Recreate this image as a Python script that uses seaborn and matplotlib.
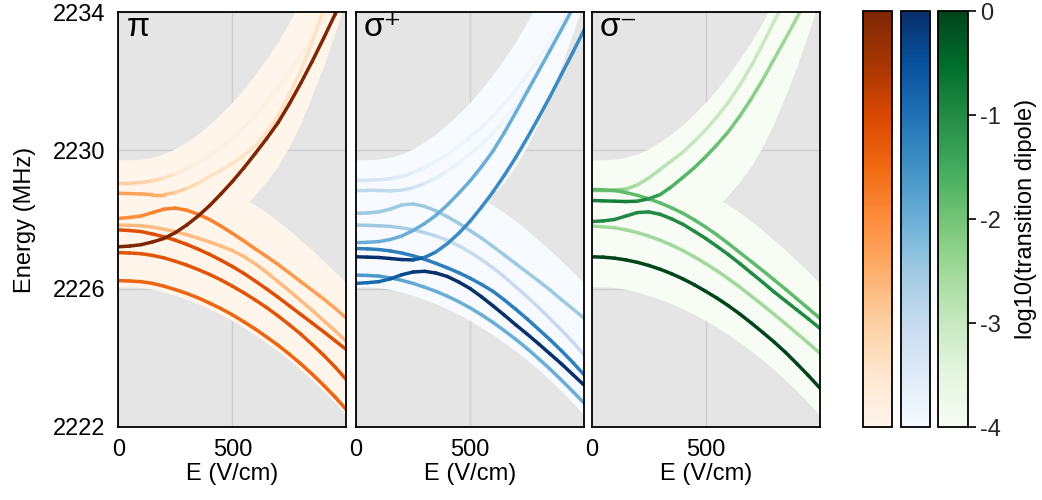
import numpy as np
import matplotlib
matplotlib.use("Agg")
import matplotlib.pyplot as plt
from matplotlib.collections import LineCollection
from matplotlib.colors import Normalize
from matplotlib.cm import ScalarMappable
import seaborn as sns

# ---------------- data ----------------
E_FIELD = [0, 50, 100, 150, 200, 250, 300, 350, 400, 450, 500,
           550, 600, 650, 700, 750, 800, 850, 900, 950, 1000]

# manifold band (pale background of weak transitions)
BAND_TOP = [2229.72, 2229.73, 2229.75, 2229.80, 2229.90, 2230.05, 2230.25, 2230.48, 2230.75, 2231.06, 2231.40,
            2231.78, 2232.20, 2232.66, 2233.15, 2233.72, 2234.35, 2234.97, 2235.60, 2236.30, 2237.00]
BAND_UPPER_LOW = [2228.00, 2228.00, 2228.00, 2228.00, 2228.00, 2228.00, 2228.00, 2228.05, 2228.10, 2228.15, 2228.20,
                  2228.35, 2228.72, 2229.10, 2229.55, 2230.12, 2230.80, 2231.60, 2232.45, 2233.40, 2234.40]
BAND_LOWER_TOP = [2229.72, 2229.72, 2229.72, 2229.70, 2229.65, 2229.55, 2229.42, 2229.27, 2229.10, 2228.96, 2228.80,
                  2228.62, 2228.42, 2228.20, 2227.95, 2227.69, 2227.40, 2227.11, 2226.80, 2226.48, 2226.15]
BAND_BOTTOM = [2226.05, 2226.05, 2226.03, 2225.98, 2225.90, 2225.80, 2225.69, 2225.56, 2225.41, 2225.25, 2225.07,
               2224.87, 2224.66, 2224.43, 2224.19, 2223.93, 2223.65, 2223.35, 2223.03, 2222.69, 2222.33]

# pi panel levels (MHz) and log10 transition dipoles
PI_RISING = [2227.21, 2227.23, 2227.27, 2227.35, 2227.45, 2227.62, 2227.84, 2228.10, 2228.40, 2228.74, 2229.10,
             2229.49, 2229.91, 2230.34, 2230.80, 2231.35, 2231.95, 2232.58, 2233.25, 2233.94, 2234.65]
PI_RISING_DIP = 0.0
PI_PALE_UP = [2229.05, 2229.05, 2229.07, 2229.12, 2229.20, 2229.32, 2229.48, 2229.65, 2229.85, 2230.09, 2230.35,
              2230.66, 2231.00, 2231.39, 2231.80, 2232.26, 2232.75, 2233.26, 2233.80, 2234.38, 2235.00]
PI_PALE_UP_DIP = [-3.0, -3.0, -3.0, -3.1, -3.3, -3.5, -3.7, -3.8, -3.8, -3.8, -3.8,
                  -3.8, -3.8, -3.8, -3.8, -3.8, -3.8, -3.8, -3.8, -3.8, -3.8]
PI_MID_UP = [2228.76, 2228.75, 2228.74, 2228.72, 2228.72, 2228.78, 2228.90, 2229.05, 2229.25, 2229.42, 2229.62,
             2229.85, 2230.12, 2230.52, 2231.00, 2231.62, 2232.30, 2233.15, 2234.10, 2235.00, 2236.00]
PI_MID_UP_DIP = [-2.3, -2.3, -2.3, -2.4, -2.6, -2.9, -3.1, -3.3, -3.4, -3.4, -3.4,
                 -3.4, -3.4, -3.4, -3.4, -3.4, -3.4, -3.4, -3.4, -3.4, -3.4]
PI_BUMP = [2228.03, 2228.06, 2228.10, 2228.20, 2228.30, 2228.33, 2228.27, 2228.15, 2228.00, 2227.81, 2227.60,
           2227.38, 2227.15, 2226.93, 2226.70, 2226.45, 2226.20, 2225.95, 2225.70, 2225.43, 2225.14]
PI_BUMP_DIP = [-2.0, -2.0, -2.0, -1.9, -1.8, -1.8, -1.8, -1.8, -1.8, -1.85, -1.9,
               -1.95, -2.0, -2.05, -2.1, -2.15, -2.2, -2.25, -2.3, -2.35, -2.4]
PI_LIGHT = [2227.84, 2227.83, 2227.82, 2227.78, 2227.72, 2227.65, 2227.56, 2227.46, 2227.35, 2227.23, 2227.10,
            2226.93, 2226.72, 2226.47, 2226.20, 2225.93, 2225.65, 2225.37, 2225.07, 2224.78, 2224.47]
PI_LIGHT_DIP = -2.7
PI_DARK_A = [2227.70, 2227.68, 2227.65, 2227.58, 2227.50, 2227.40, 2227.28, 2227.14, 2226.99, 2226.82, 2226.64,
             2226.44, 2226.22, 2225.99, 2225.75, 2225.50, 2225.25, 2225.00, 2224.75, 2224.49, 2224.23]
PI_DARK_A_DIP = -1.1
PI_DARK_B = [2227.04, 2227.03, 2227.01, 2226.96, 2226.89, 2226.79, 2226.68, 2226.55, 2226.41, 2226.25, 2226.07,
             2225.88, 2225.67, 2225.45, 2225.21, 2224.95, 2224.68, 2224.38, 2224.07, 2223.73, 2223.36]
PI_DARK_B_DIP = -1.2
PI_LOW = [2226.23, 2226.22, 2226.20, 2226.15, 2226.07, 2225.97, 2225.86, 2225.73, 2225.58, 2225.42, 2225.24,
          2225.04, 2224.83, 2224.60, 2224.36, 2224.10, 2223.82, 2223.52, 2223.20, 2222.86, 2222.49]
PI_LOW_DIP = -1.45

# sigma+ panel
SP_PALE_UP = [2229.14, 2229.14, 2229.15, 2229.18, 2229.25, 2229.36, 2229.50, 2229.68, 2229.88, 2230.12, 2230.38,
              2230.68, 2231.00, 2231.36, 2231.75, 2232.18, 2232.65, 2233.16, 2233.70, 2234.28, 2234.90]
SP_PALE_UP_DIP = [-3.3, -3.3, -3.3, -3.4, -3.5, -3.6, -3.7, -3.8, -3.8, -3.8, -3.8,
                  -3.8, -3.8, -3.8, -3.8, -3.8, -3.8, -3.8, -3.8, -3.8, -3.8]
SP_LIGHT_UP = [2228.85, 2228.85, 2228.84, 2228.83, 2228.85, 2228.92, 2229.04, 2229.20, 2229.40, 2229.64, 2229.90,
               2230.18, 2230.50, 2230.88, 2231.30, 2231.78, 2232.30, 2232.85, 2233.45, 2234.06, 2234.70]
SP_LIGHT_UP_DIP = [-2.9, -2.9, -2.9, -2.9, -3.0, -3.2, -3.4, -3.6, -3.7, -3.8, -3.8,
                   -3.8, -3.8, -3.8, -3.8, -3.8, -3.8, -3.8, -3.8, -3.8, -3.8]
SP_BUMP = [2228.18, 2228.19, 2228.22, 2228.30, 2228.42, 2228.45, 2228.38, 2228.25, 2228.08, 2227.89, 2227.68,
           2227.46, 2227.22, 2226.97, 2226.72, 2226.47, 2226.22, 2225.96, 2225.68, 2225.41, 2225.14]
SP_BUMP_DIP = -2.5
SP_LIGHT = [2227.84, 2227.83, 2227.82, 2227.80, 2227.76, 2227.70, 2227.62, 2227.52, 2227.40, 2227.24, 2227.05,
            2226.84, 2226.60, 2226.34, 2226.05, 2225.76, 2225.45, 2225.13, 2224.80, 2224.45, 2224.08]
SP_LIGHT_DIP = [-2.5, -2.5, -2.5, -2.5, -2.6, -2.7, -2.8, -2.9, -3.0, -3.0, -3.0,
                -3.0, -3.0, -3.0, -3.0, -3.0, -3.0, -3.0, -3.0, -3.0, -3.0]
SP_RISE_A = [2227.33, 2227.34, 2227.36, 2227.42, 2227.52, 2227.68, 2227.88, 2228.12, 2228.42, 2228.76, 2229.12,
             2229.53, 2229.98, 2230.52, 2231.10, 2231.70, 2232.30, 2232.90, 2233.50, 2234.12, 2234.75]
SP_RISE_A_DIP = -2.0
SP_MID = [2227.16, 2227.15, 2227.13, 2227.09, 2227.03, 2226.95, 2226.85, 2226.73, 2226.60, 2226.46, 2226.30,
          2226.12, 2225.92, 2225.67, 2225.40, 2225.12, 2224.82, 2224.52, 2224.20, 2223.86, 2223.50]
SP_MID_DIP = -1.2
SP_RISE_B = [2226.92, 2226.91, 2226.90, 2226.87, 2226.84, 2226.83, 2226.90, 2227.06, 2227.30, 2227.60, 2227.95,
             2228.36, 2228.80, 2229.28, 2229.80, 2230.36, 2230.95, 2231.56, 2232.20, 2232.84, 2233.50]
SP_RISE_B_DIP = [0.0, 0.0, 0.0, 0.0, -0.05, -0.3, -1.0, -1.3, -1.4, -1.4, -1.4,
                 -1.4, -1.4, -1.4, -1.4, -1.4, -1.4, -1.4, -1.4, -1.4, -1.4]
SP_DEEP = [2226.15, 2226.17, 2226.20, 2226.28, 2226.40, 2226.48, 2226.50, 2226.45, 2226.35, 2226.19, 2226.00,
           2225.76, 2225.50, 2225.23, 2224.95, 2224.68, 2224.40, 2224.11, 2223.82, 2223.51, 2223.20]
SP_DEEP_DIP = [-0.9, -0.9, -0.9, -0.8, -0.5, -0.2, -0.05, 0.0, 0.0, 0.0, 0.0,
               0.0, 0.0, 0.0, 0.0, 0.0, 0.0, 0.0, 0.0, 0.0, 0.0]
SP_LOW = [2226.39, 2226.38, 2226.36, 2226.31, 2226.24, 2226.15, 2226.04, 2225.92, 2225.78, 2225.62, 2225.44,
          2225.24, 2225.02, 2224.78, 2224.53, 2224.26, 2223.97, 2223.67, 2223.35, 2223.02, 2222.68]
SP_LOW_DIP = [-1.6, -1.6, -1.6, -1.7, -1.8, -1.9, -2.0, -2.0, -2.0, -2.0, -2.0,
              -2.0, -2.0, -2.0, -2.0, -2.0, -2.0, -2.0, -2.0, -2.0, -2.0]

# sigma- panel
SM_LIGHT_UP = [2228.85, 2228.85, 2228.85, 2228.88, 2229.00, 2229.20, 2229.45, 2229.70, 2229.95, 2230.26, 2230.60,
               2230.98, 2231.40, 2231.90, 2232.45, 2233.08, 2233.75, 2234.35, 2235.00, 2235.70, 2236.40]
SM_LIGHT_UP_DIP = [-2.2, -2.2, -2.2, -2.4, -2.6, -2.7, -2.8, -2.8, -2.9, -2.95, -3.0,
                   -3.0, -3.0, -3.0, -3.0, -3.0, -3.0, -3.0, -3.0, -3.0, -3.0]
SM_MID_UP = [2228.55, 2228.54, 2228.53, 2228.52, 2228.53, 2228.60, 2228.72, 2228.95, 2229.22, 2229.50, 2229.82,
             2230.17, 2230.55, 2231.00, 2231.50, 2232.05, 2232.65, 2233.24, 2233.85, 2234.47, 2235.10]
SM_MID_UP_DIP = [-0.8, -0.8, -0.8, -0.8, -0.9, -1.1, -1.4, -1.6, -1.7, -1.75, -1.8,
                 -1.9, -2.0, -2.1, -2.2, -2.3, -2.4, -2.45, -2.5, -2.5, -2.5]
SM_MID = [2228.87, 2228.86, 2228.84, 2228.78, 2228.70, 2228.60, 2228.48, 2228.34, 2228.18, 2227.99, 2227.78,
          2227.55, 2227.30, 2227.04, 2226.78, 2226.52, 2226.25, 2225.98, 2225.70, 2225.42, 2225.14]
SM_MID_DIP = -1.8
SM_BUMP = [2227.94, 2227.96, 2228.00, 2228.10, 2228.20, 2228.22, 2228.15, 2228.02, 2227.86, 2227.66, 2227.45,
           2227.22, 2226.98, 2226.72, 2226.45, 2226.18, 2225.90, 2225.64, 2225.38, 2225.12, 2224.85]
SM_BUMP_DIP = -1.0
SM_LIGHT = [2227.81, 2227.79, 2227.76, 2227.70, 2227.62, 2227.52, 2227.40, 2227.26, 2227.10, 2226.92, 2226.72,
            2226.51, 2226.28, 2226.04, 2225.78, 2225.52, 2225.25, 2224.98, 2224.70, 2224.42, 2224.13]
SM_LIGHT_DIP = -2.5
SM_DEEP = [2226.92, 2226.91, 2226.88, 2226.83, 2226.76, 2226.67, 2226.56, 2226.43, 2226.28, 2226.11, 2225.92,
           2225.72, 2225.50, 2225.26, 2225.00, 2224.73, 2224.45, 2224.15, 2223.82, 2223.48, 2223.12]
SM_DEEP_DIP = 0.0

PANEL_LABELS = ["π", "σ⁺", "σ⁻"]
CMAP_NAMES = ["Oranges", "Blues", "Greens"]
X_TICKS = [0, 500]
Y_TICKS = [2222, 2226, 2230, 2234]
CB_TICKS = [0, -1, -2, -3, -4]
CB_TICKLABELS = ["0", "-1", "-2", "-3", "-4"]

PANEL_LEVELS = [
    [(PI_PALE_UP, PI_PALE_UP_DIP), (PI_MID_UP, PI_MID_UP_DIP), (PI_BUMP, PI_BUMP_DIP),
     (PI_LIGHT, PI_LIGHT_DIP), (PI_DARK_A, PI_DARK_A_DIP), (PI_DARK_B, PI_DARK_B_DIP),
     (PI_LOW, PI_LOW_DIP), (PI_RISING, PI_RISING_DIP)],
    [(SP_PALE_UP, SP_PALE_UP_DIP), (SP_LIGHT_UP, SP_LIGHT_UP_DIP), (SP_BUMP, SP_BUMP_DIP),
     (SP_LIGHT, SP_LIGHT_DIP), (SP_RISE_A, SP_RISE_A_DIP), (SP_MID, SP_MID_DIP),
     (SP_RISE_B, SP_RISE_B_DIP), (SP_LOW, SP_LOW_DIP), (SP_DEEP, SP_DEEP_DIP)],
    [(SM_LIGHT_UP, SM_LIGHT_UP_DIP), (SM_MID_UP, SM_MID_UP_DIP), (SM_MID, SM_MID_DIP),
     (SM_BUMP, SM_BUMP_DIP), (SM_LIGHT, SM_LIGHT_DIP), (SM_DEEP, SM_DEEP_DIP)],
]

# ---------------- style ----------------
sns.set_theme(style="white")
plt.rcParams["font.family"] = ["Liberation Sans", "DejaVu Sans"]
plt.rcParams["axes.unicode_minus"] = False
FS = 17

fig = plt.figure(figsize=(10.42, 5.0), dpi=100)
norm = Normalize(-4, 0)
cmaps = [sns.color_palette(n, as_cmap=True) for n in CMAP_NAMES]

ax_lefts = [0.1135, 0.3417, 0.5678]
E = np.asarray(E_FIELD, dtype=float)

for i, (left, cmap) in enumerate(zip(ax_lefts, cmaps)):
    ax = fig.add_axes([left, 0.1466, 0.2190, 0.8288])
    ax.set_facecolor("#e5e5e5")
    ax.set_axisbelow(True)
    ax.grid(True, color="#cdcdcd", lw=1.0)
    band = cmap(0.0)
    ax.fill_between(E, BAND_BOTTOM, BAND_LOWER_TOP, color=band, lw=0, zorder=1)
    ax.fill_between(E, BAND_UPPER_LOW, BAND_TOP, color=band, lw=0, zorder=1)

    levels = sorted(PANEL_LEVELS[i], key=lambda t: np.mean(np.atleast_1d(t[1])))
    for k, (y, dip) in enumerate(levels):
        y = np.asarray(y, dtype=float)
        d = np.broadcast_to(np.asarray(dip, dtype=float), y.shape)
        pts = np.column_stack([E, y]).reshape(-1, 1, 2)
        segs = np.concatenate([pts[:-1], pts[1:]], axis=1)
        seg_val = 0.5 * (d[:-1] + d[1:])
        lc = LineCollection(segs, cmap=cmap, norm=norm, linewidths=2.5,
                            capstyle="round", joinstyle="round", zorder=2 + k * 0.01)
        lc.set_array(seg_val)
        ax.add_collection(lc)

    ax.set_xlim(0, 1000)
    ax.set_ylim(2222, 2234)
    ax.set_xticks(X_TICKS)
    ax.set_yticks(Y_TICKS)
    ax.tick_params(direction="out", length=6, width=1.2, color="black",
                   labelsize=FS, pad=3, labelcolor="black")
    if i > 0:
        ax.tick_params(axis="y", left=False, labelleft=False)
    else:
        ax.set_ylabel("Energy (MHz)", fontsize=FS, color="black", labelpad=12)
    ax.set_xlabel("E (V/cm)", fontsize=FS, color="black", labelpad=1)
    for sp in ax.spines.values():
        sp.set_color("black")
        sp.set_linewidth(1.3)
    ax.text(0.035, 1.0, PANEL_LABELS[i], transform=ax.transAxes, fontsize=24,
            va="top", ha="left", color="black", zorder=5)

cb_lefts = [0.8280, 0.8644, 0.9005]
for i, (left, cmap) in enumerate(zip(cb_lefts, cmaps)):
    cax = fig.add_axes([left, 0.1454, 0.0284, 0.8320])
    cb = fig.colorbar(ScalarMappable(norm=norm, cmap=cmap), cax=cax)
    cb.outline.set_linewidth(1.3)
    cb.outline.set_edgecolor("black")
    if i < 2:
        cb.set_ticks([])
    else:
        cb.set_ticks(CB_TICKS)
        cb.set_ticklabels(CB_TICKLABELS)
        cax.tick_params(direction="out", length=6, width=1.2, color="black",
                        labelsize=FS, pad=3, right=True)
        cb.set_label("log10(transition dipole)", fontsize=FS, color="black", labelpad=10)

fig.savefig("out.png", dpi=100)
